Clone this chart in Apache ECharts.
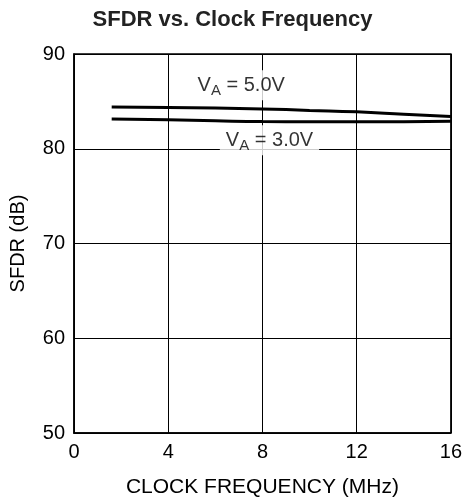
<!DOCTYPE html>
<html><head><meta charset="utf-8">
<script src="https://cdn.jsdelivr.net/npm/echarts@6/dist/echarts.min.js"></script>
<style>html,body{margin:0;padding:0;background:#fff}#c{width:465px;height:504px}</style>
</head><body><div id="c"></div>
<script>
const freqMHz = [1.6, 4, 6, 8, 10, 12, 14, 16];
const sfdr5V = [84.4, 84.35, 84.3, 84.2, 84.05, 83.9, 83.65, 83.4];
const sfdr3V = [83.15, 83.05, 82.95, 82.87, 82.85, 82.85, 82.85, 82.9];
const xTicks = [0, 4, 8, 12, 16];
const yTicks = [50, 60, 70, 80, 90];
const label5V = {x: 7.1, y: 86.7, text: '5.0V'};
const label3V = {x: 8.3, y: 80.9, text: '3.0V'};

const FONT = 'Liberation Sans, Arial, sans-serif';
const chart = echarts.init(document.getElementById('c'));
const rich = {
  v: {fontSize: 20, fontFamily: FONT, color: '#000'},
  s: {fontSize: 15, fontFamily: FONT, color: '#000', padding: [11, 0, 0, 0]}
};
function labelSeries(l) {
  return {
    type: 'scatter', data: [[l.x, l.y]], symbolSize: 0, silent: true, z: 5,
    label: {show: true, position: 'inside', formatter: '{v|V}{s|A}{v| = ' + l.text + '}',
      rich: rich, backgroundColor: '#fff', padding: [2, 6, 2, 6]}
  };
}
chart.setOption({
  animation: false,
  title: {text: 'SFDR vs. Clock Frequency', left: 'center', top: 4,
    textStyle: {fontFamily: FONT, fontWeight: 'bold', fontSize: 22, color: '#222'}},
  grid: {left: 73, right: 13, top: 54, bottom: 71, show: true, borderColor: '#000', borderWidth: 1.5},
  xAxis: {type: 'value', min: xTicks[0], max: xTicks[xTicks.length - 1], interval: 4,
    name: 'CLOCK FREQUENCY (MHz)', nameLocation: 'middle', nameGap: 44,
    nameTextStyle: {fontFamily: FONT, fontSize: 21, color: '#000'},
    axisLine: {lineStyle: {color: '#000', width: 1.5}}, axisTick: {show: false},
    axisLabel: {fontFamily: FONT, fontSize: 20, color: '#000', margin: 9},
    splitLine: {lineStyle: {color: '#000', width: 1}}},
  yAxis: {type: 'value', min: yTicks[0], max: yTicks[yTicks.length - 1], interval: 10,
    name: 'SFDR (dB)', nameLocation: 'middle', nameGap: 46,
    nameTextStyle: {fontFamily: FONT, fontSize: 20, color: '#000'},
    axisLine: {show: true, lineStyle: {color: '#000', width: 1.5}}, axisTick: {show: false},
    axisLabel: {fontFamily: FONT, fontSize: 20, color: '#000', margin: 9},
    splitLine: {lineStyle: {color: '#000', width: 1}}},
  series: [
    {type: 'line', data: freqMHz.map((f, i) => [f, sfdr5V[i]]), smooth: true, showSymbol: false,
      lineStyle: {color: '#000', width: 3}, z: 3},
    {type: 'line', data: freqMHz.map((f, i) => [f, sfdr3V[i]]), smooth: true, showSymbol: false,
      lineStyle: {color: '#000', width: 3}, z: 3},
    labelSeries(label5V),
    labelSeries(label3V)
  ]
});
</script></body></html>
